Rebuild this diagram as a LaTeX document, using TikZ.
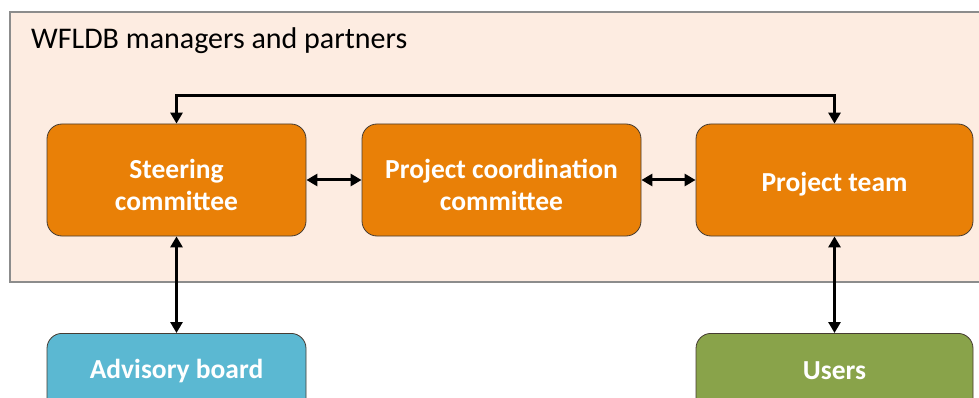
\documentclass[tikz,border=0pt]{standalone}
\usepackage{fontspec}
\setmainfont{Carlito}
\usetikzlibrary{arrows.meta}
\definecolor{framefill}{RGB}{253,236,225}
\definecolor{framedraw}{RGB}{140,140,140}
\definecolor{orangebox}{RGB}{233,128,7}
\definecolor{bluebox}{RGB}{91,184,210}
\definecolor{greenbox}{RGB}{137,163,74}
\definecolor{boxedge}{RGB}{70,60,50}
\tikzset{
  box/.style={draw=boxedge, line width=0.8pt, rounded corners=15pt, minimum height=112pt, inner sep=0pt},
  boxtext/.style={text=white, font=\bfseries\fontsize{27.5}{32}\selectfont, align=center, inner sep=0pt},
  conn/.style={line width=3pt, {Triangle[length=11pt,width=12pt]}-{Triangle[length=11pt,width=12pt]}}
}
\begin{document}
\begin{tikzpicture}[x=1pt,y=-1pt]
\useasboundingbox (0,0) rectangle (979,398);
\clip (0,0) rectangle (979,398);
\fill[white] (0,0) rectangle (979,398);
\draw[fill=framefill, draw=framedraw, line width=2pt] (10,12) rectangle (995,282);
\node[anchor=base west, font=\fontsize{30}{34}\selectfont, inner sep=0pt] (title) at (31,49) {WFLDB managers and partners};
\node[box, fill=orangebox, minimum width=259pt] (steer) at (176.5,180) {};
\node[box, fill=orangebox, minimum width=279pt] (coord) at (501.5,180) {};
\node[box, fill=orangebox, minimum width=277pt] (team) at (834.5,180) {};
\node[box, fill=bluebox, minimum width=259pt, anchor=north] (adv) at (176.5,333) {};
\node[box, fill=greenbox, minimum width=277pt, anchor=north] (users) at (834.5,333) {};
\node[boxtext] (steert) at (176.5,184.5) {Steering\\committee};
\node[boxtext] (coordt) at (501.5,184.5) {Project coordination\\committee};
\node[boxtext, anchor=base] (teamt) at (834.5,192) {Project team};
\node[boxtext, anchor=base] (advt) at (176.5,378) {Advisory board};
\node[boxtext, anchor=base] (userst) at (834.5,379) {Users};
\draw[conn] (steer.east) -- (coord.west);
\draw[conn] (coord.east) -- (team.west);
\draw[conn] (steer.south) -- (adv.north);
\draw[conn] (team.south -| users.north) -- (users.north);
\draw[conn] (steer.north) -- ++(0,-28) -| (team.north);
\end{tikzpicture}
\end{document}
